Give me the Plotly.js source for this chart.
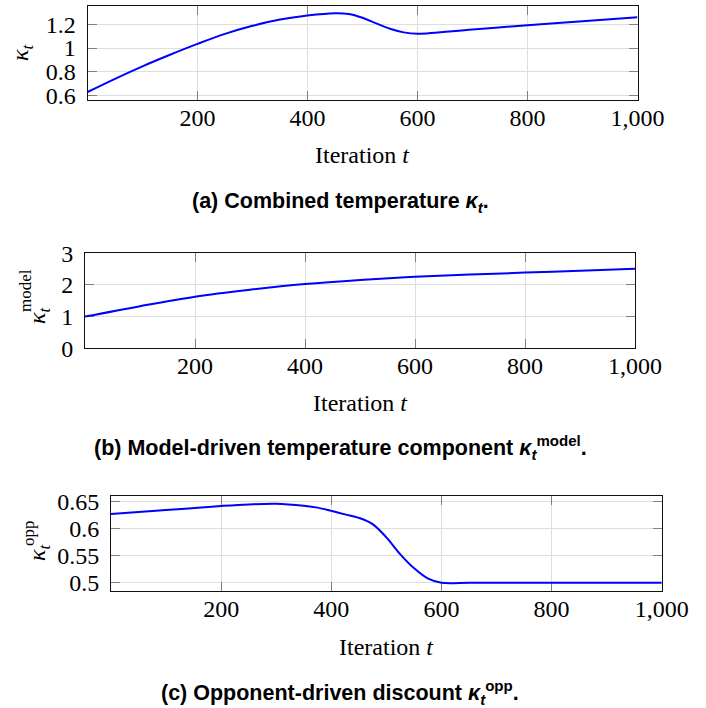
<!DOCTYPE html>
<html>
<head>
<meta charset="utf-8">
<script src="https://cdn.plot.ly/plotly-3.0.1.min.js"></script>
<style>html,body{margin:0;padding:0;background:#fff;}#chart{width:706px;height:708px;}</style>
</head>
<body>
<div id="chart"></div>
<script>
// ---- data ----
const iterA = [0,50,100,150,200,250,300,350,400,450,475,500,525,550,575,600,700,800,900,1000];
const kappaCombined = [0.631,0.742,0.847,0.944,1.035,1.119,1.187,1.240,1.274,1.293,1.287,1.255,1.208,1.162,1.132,1.121,1.157,1.192,1.226,1.259];

const iterB = [0,100,200,300,400,500,600,700,800,900,1000];
const kappaModel = [1.0,1.33,1.63,1.85,2.03,2.16,2.26,2.33,2.39,2.45,2.51];

const iterC = [0,100,200,250,300,350,375,400,425,450,475,500,525,550,575,600,650,700,800,900,1000];
const kappaOpp = [0.627,0.6345,0.642,0.645,0.6463,0.6425,0.639,0.633,0.6265,0.620,0.6086,0.584,0.553,0.527,0.508,0.5,0.5,0.5,0.5,0.5,0.5];

const xTicks = [200,400,600,800,1000];
const yTicksA = [0.6,0.8,1,1.2];
const yTicksB = [0,1,2,3];
const yTicksC = [0.5,0.55,0.6,0.65];

const captions = [
  "<b>(a) Combined temperature <i>κ<sub>t</sub></i>.</b>",
  "<b>(b) Model-driven temperature component <i>κ<sub>t</sub></i><sup>model</sup>.</b>",
  "<b>(c) Opponent-driven discount <i>κ<sub>t</sub></i><sup>opp</sup>.</b>"
];
const xTitle = "Iteration <i>t</i>";

// ---- layout helpers ----
const W = 706, H = 708;
const px = v => v / W;
const py = v => 1 - v / H;
const serif = "Liberation Serif";
const tickFont = {family: serif, size: 24, color: "#000"};

function axisStyle(extra) {
  return Object.assign({
    showline: true, mirror: "ticks", linecolor: "#111", linewidth: 1,
    ticks: "inside", ticklen: 9, tickwidth: 1, tickcolor: "#808080",
    showgrid: true, gridcolor: "#dedede", gridwidth: 1,
    zeroline: false, tickfont: tickFont, fixedrange: true,
    layer: "below traces"
  }, extra);
}

const lineStyle = {color: "#0000ff", width: 2, shape: "spline", smoothing: 1};

const traces = [
  {x: iterA, y: kappaCombined, xaxis: "x", yaxis: "y", mode: "lines", line: lineStyle, hoverinfo: "skip", cliponaxis: false},
  {x: iterB, y: kappaModel, xaxis: "x2", yaxis: "y2", mode: "lines", line: lineStyle, hoverinfo: "skip", cliponaxis: false},
  {x: iterC, y: kappaOpp, xaxis: "x3", yaxis: "y3", mode: "lines", line: lineStyle, hoverinfo: "skip", cliponaxis: false}
];

const panels = [
  {l: 87.5, r: 637.5, t: 5.7, b: 100},
  {l: 85, r: 635, t: 253.3, b: 348.3},
  {l: 111, r: 661.7, t: 495.7, b: 590.7}
];

const xCommon = {range: [0, 1000], tickmode: "array", tickvals: xTicks, tickformat: ",", ticklabelstandoff: -4};

const layout = {
  width: W, height: H,
  margin: {l: 0, r: 0, t: 0, b: 0},
  paper_bgcolor: "#fff", plot_bgcolor: "#fff",
  showlegend: false,
  separators: ".,",
  xaxis: axisStyle(Object.assign({domain: [px(panels[0].l), px(panels[0].r)], anchor: "y"}, xCommon)),
  yaxis: axisStyle({domain: [py(panels[0].b), py(panels[0].t)], anchor: "x", range: [0.564, 1.356], tickmode: "array", tickvals: yTicksA, ticklabelstandoff: 6}),
  xaxis2: axisStyle(Object.assign({domain: [px(panels[1].l), px(panels[1].r)], anchor: "y2"}, xCommon)),
  yaxis2: axisStyle({domain: [py(panels[1].b), py(panels[1].t)], anchor: "x2", range: [0, 3], tickmode: "array", tickvals: yTicksB, ticklabelstandoff: 6}),
  xaxis3: axisStyle(Object.assign({domain: [px(panels[2].l), px(panels[2].r)], anchor: "y3"}, xCommon)),
  yaxis3: axisStyle({domain: [py(panels[2].b), py(panels[2].t)], anchor: "x3", range: [0.4852, 0.6611], tickmode: "array", tickvals: yTicksC, ticklabelstandoff: 6}),
  annotations: []
};

const ann = layout.annotations;
function addText(text, x, y, size, family, angle) {
  ann.push({text: text, x: px(x), y: py(y), xref: "paper", yref: "paper",
    xanchor: "center", yanchor: "middle", showarrow: false, textangle: angle || 0,
    font: {family: family, size: size, color: "#000"}});
}

// x axis titles
addText(xTitle, (panels[0].l + panels[0].r) / 2, 155, 24, serif);
addText(xTitle, (panels[1].l + panels[1].r) / 2, 403, 24, serif);
addText(xTitle, (panels[2].l + panels[2].r) / 2, 647, 24, serif);

// y axis titles
addText("<i>κ<sub>t</sub></i>", 22, 53, 24, serif, -90);
addText("<i>κ<sub>t</sub></i>", 39, 316, 24, serif, -90);
addText("model", 25, 291, 17, serif, -90);
addText("<i>κ<sub>t</sub></i>", 39, 553, 24, serif, -90);
addText("opp", 28, 533, 17, serif, -90);

// captions
const sans = "Liberation Sans";
addText(captions[0], 340, 202, 21.5, sans);
addText(captions[1], 340, 447, 21.5, sans);
addText(captions[2], 340, 692, 21.5, sans);

Plotly.newPlot("chart", traces, layout, {staticPlot: true, displayModeBar: false});
</script>
</body>
</html>
